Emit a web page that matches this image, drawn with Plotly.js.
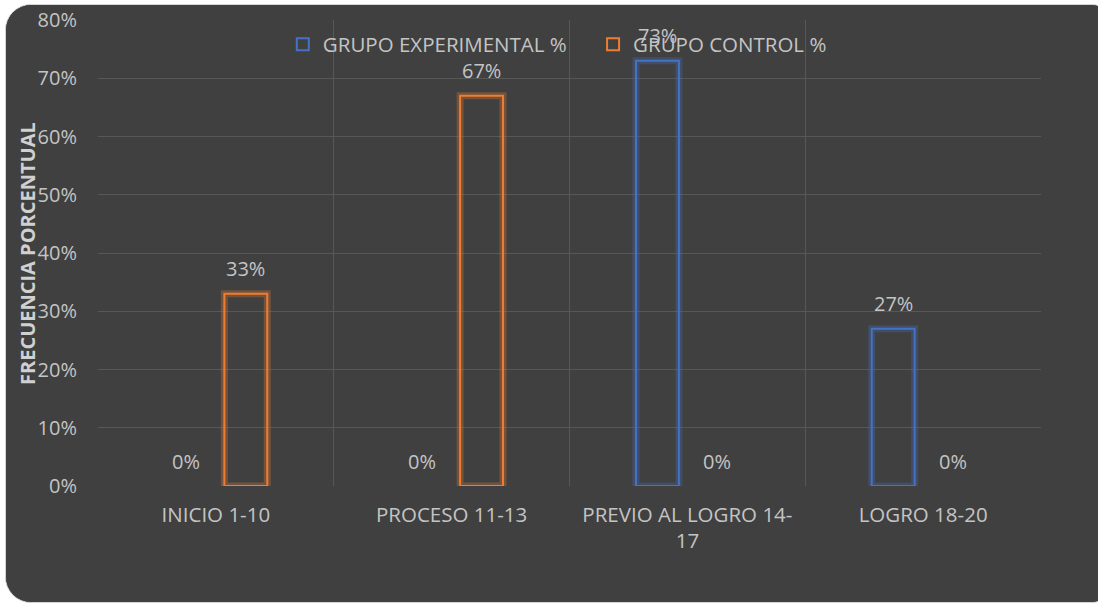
<!DOCTYPE html>
<html><head><meta charset="utf-8">
<script src="https://cdn.plot.ly/plotly-3.0.1.min.js"></script>
<style>
html,body{margin:0;padding:0;background:#ffffff;width:1098px;height:605px;overflow:hidden;}
#card{position:absolute;left:5px;top:4px;width:1110px;height:597px;background:#404040;border:1px solid #d4d4d4;border-radius:26px;overflow:hidden;}
#chart{position:absolute;left:0;top:0;width:1092px;height:597px;}
</style></head>
<body><div id="card"><div id="chart"></div></div>
<script>
const categories = ["INICIO 1-10", "PROCESO 11-13", "PREVIO AL LOGRO 14-<br>17", "LOGRO 18-20"];
const seriesNames = ["GRUPO EXPERIMENTAL %", "GRUPO CONTROL %"];
const experimental = [0, 0, 73, 27];
const control = [33, 67, 0, 0];
const yTickVals = [0, 10, 20, 30, 40, 50, 60, 70, 80];
const yTickText = ["0%", "10%", "20%", "30%", "40%", "50%", "60%", "70%", "80%"];

const BLUE = "#4472C4", ORANGE = "#ED7D31";
const TXT = "#c4c4c4";
const W = 0.182, SHIFT = 0.127;
const series = [
  {name: seriesNames[0], values: experimental, color: BLUE, glow: "rgba(68,114,196,0.3)", center: -SHIFT, px: -30, legend: "legend"},
  {name: seriesNames[1], values: control, color: ORANGE, glow: "rgba(237,125,49,0.3)", center: SHIFT, px: 30, legend: "legend2"}
];
const drawn = vals => vals.map(v => (v === 0 ? null : v));
const traces = [];
series.forEach(s => {
  traces.push({type: "bar", x: categories, y: drawn(s.values), width: W, offset: s.center - W/2,
    marker: {color: "rgba(0,0,0,0)", line: {color: s.glow, width: 7}}, showlegend: false, hoverinfo: "skip"});
});
series.forEach(s => {
  traces.push({type: "bar", x: categories, y: drawn(s.values), width: W, offset: s.center - W/2, name: s.name,
    legend: s.legend, marker: {color: "rgba(0,0,0,0)", line: {color: s.color, width: 2}}});
});
const annotations = [];
series.forEach(s => {
  s.values.forEach((v, i) => {
    annotations.push({x: categories[i], y: v, xref: "x", yref: "y", text: v + "%", showarrow: false,
      xshift: s.px, yshift: 25, yanchor: "middle", xanchor: "center",
      font: {family: "Open Sans, sans-serif", size: 20, color: TXT}});
  });
});
annotations.push({xref: "paper", yref: "paper", x: -0.0753, y: 0.5, text: "<b>FRECUENCIA PORCENTUAL</b>",
  textangle: -90, showarrow: false, xanchor: "center", yanchor: "middle",
  font: {family: "Open Sans, sans-serif", size: 20, color: "#d0d0d0"}});

const legendBase = {orientation: "h", y: 0.9475, xanchor: "left", yanchor: "middle",
  bgcolor: "rgba(0,0,0,0)", font: {size: 20.5, color: TXT}, itemwidth: 30};
const layout = {
  width: 1092, height: 597,
  paper_bgcolor: "#404040", plot_bgcolor: "#404040",
  margin: {l: 92, r: 57, t: 14.5, b: 116},
  barmode: "overlay",
  font: {family: "Open Sans, sans-serif", color: TXT, size: 20},
  xaxis: {type: "category", tickson: "boundaries", showgrid: true, gridcolor: "#575757", gridwidth: 1,
    ticks: "", ticklabelstandoff: 14, showline: false, zeroline: false,
    tickfont: {size: 20.5, color: TXT}, range: [-0.5, 3.5]},
  yaxis: {range: [0, 80], tickvals: yTickVals, ticktext: yTickText, showgrid: true, gridcolor: "#575757",
    zeroline: false, showline: false, ticks: "", ticklabelstandoff: 20,
    tickfont: {size: 20, color: TXT}},
  legend: Object.assign({}, legendBase, {x: 0.196}),
  legend2: Object.assign({}, legendBase, {x: 0.525}),
  annotations: annotations,
  showlegend: true
};
Plotly.newPlot("chart", traces, layout, {displayModeBar: false, staticPlot: true});
</script></body></html>
